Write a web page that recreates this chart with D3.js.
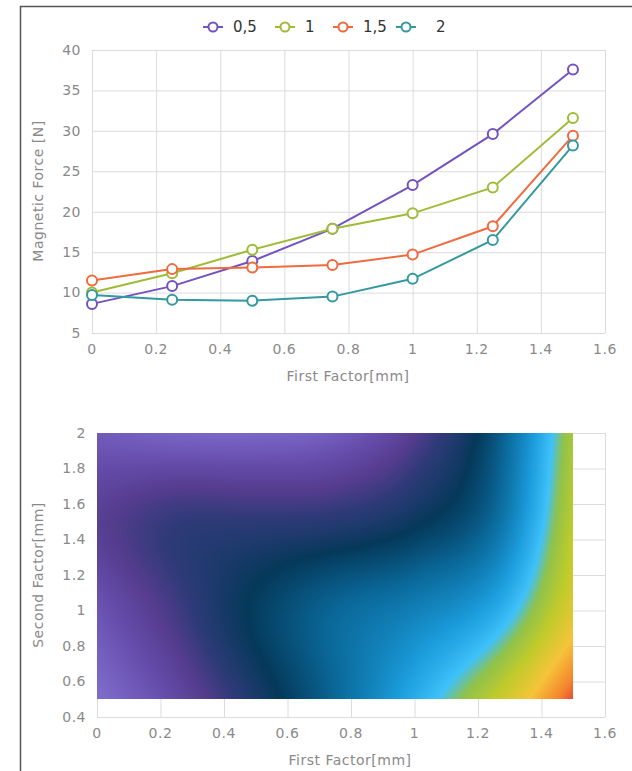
<!DOCTYPE html>
<html>
<head>
<meta charset="utf-8">
<script src="https://cdn.jsdelivr.net/npm/d3@7"></script>
<style>
  body { margin: 0; background: #fff; }
  svg { display: block; font-family: "DejaVu Sans", sans-serif; }
</style>
</head>
<body>
<svg id="chart"></svg>
<script>
// data
const firstFactor = [0, 0.25, 0.5, 0.75, 1, 1.25, 1.5];
const secondFactor = [0.5, 1, 1.5, 2];
const seriesNames = ["0,5", "1", "1,5", "2"];
const force05 = [8.6, 10.8, 13.9, 17.9, 23.3, 29.6, 37.6];
const force10 = [10.0, 12.4, 15.3, 17.9, 19.8, 23.0, 31.6];
const force15 = [11.5, 12.9, 13.1, 13.4, 14.7, 18.2, 29.4];
const force20 = [9.7, 9.1, 9.0, 9.5, 11.7, 16.5, 28.2];
const forceTicks = [5, 10, 15, 20, 25, 30, 35, 40];
const factorTicks = [0, 0.2, 0.4, 0.6, 0.8, 1, 1.2, 1.4, 1.6];
const secondTicks = [0.4, 0.6, 0.8, 1, 1.2, 1.4, 1.6, 1.8, 2];

const seriesColors = ["#7452c0", "#9fbb38", "#ef6a3e", "#33999f"];
const heatStops = [8.5, 10.5, 11.8, 13, 15, 18, 22, 25, 26.8, 29.5, 33, 36, 37.6];
const heatColors = ["#8070d0", "#664cab", "#553c8e", "#2e3a78", "#05395a", "#0a6899",
  "#1b9cdc", "#3fc1fa", "#8fc24c", "#bfcb2a", "#f5c43a", "#f5852c", "#e8483a"];

const allSeries = [force05, force10, force15, force20];
const W = 632, H = 771;
const gridColor = "#dcdcdc", tickColor = "#8a8a8a";
const fmt = d => String(+d.toFixed(1));

const svg = d3.select("#chart").attr("width", W).attr("height", H);
svg.append("rect").attr("width", W).attr("height", H).attr("fill", "#fff");
// outer frame
svg.append("rect")
  .attr("x", 20.5).attr("y", 6.5).attr("width", 640).attr("height", 800)
  .attr("fill", "none").attr("stroke", "#555").attr("stroke-width", 1.5);

// ---------- upper: line chart ----------
const x1 = d3.scaleLinear().domain([0, 1.6]).range([92, 605]);
const y1 = d3.scaleLinear().domain([5, 40]).range([333, 50]);

const lineG = svg.append("g");
lineG.selectAll(".vg").data(factorTicks).join("line")
  .attr("x1", d => x1(d) + 0.5).attr("x2", d => x1(d) + 0.5)
  .attr("y1", y1(40)).attr("y2", y1(5))
  .attr("stroke", gridColor);
lineG.selectAll(".hg").data(forceTicks).join("line")
  .attr("x1", x1(0)).attr("x2", x1(1.6))
  .attr("y1", d => y1(d) + 0.5).attr("y2", d => y1(d) + 0.5)
  .attr("stroke", gridColor);

lineG.selectAll(".yt").data(forceTicks).join("text")
  .attr("x", x1(0) - 11).attr("y", d => y1(d)).attr("dy", "0.35em")
  .attr("text-anchor", "end").attr("fill", tickColor)
  .style("font-size", "14px").style("letter-spacing", "0.5px")
  .text(d => d);
lineG.selectAll(".xt").data(factorTicks).join("text")
  .attr("x", d => x1(d)).attr("y", y1(5) + 16).attr("dy", "0.35em")
  .attr("text-anchor", "middle").attr("fill", tickColor)
  .style("font-size", "14px").style("letter-spacing", "0.5px")
  .text(fmt);

lineG.append("text")
  .attr("x", 348).attr("y", 376).attr("dy", "0.35em")
  .attr("text-anchor", "middle").attr("fill", tickColor)
  .style("font-size", "14px").style("letter-spacing", "0.5px")
  .text("First Factor[mm]");
lineG.append("text")
  .attr("transform", "translate(38,191) rotate(-90)").attr("dy", "0.35em")
  .attr("text-anchor", "middle").attr("fill", tickColor)
  .style("font-size", "14px").style("letter-spacing", "0.5px")
  .text("Magnetic Force [N]");

const line = d3.line().x((d, i) => x1(firstFactor[i])).y(d => y1(d));
allSeries.forEach((vals, k) => {
  lineG.append("path").datum(vals)
    .attr("d", line).attr("fill", "none")
    .attr("stroke", seriesColors[k]).attr("stroke-width", 2);
});
allSeries.forEach((vals, k) => {
  lineG.selectAll(null).data(vals).join("circle")
    .attr("cx", (d, i) => x1(firstFactor[i])).attr("cy", d => y1(d))
    .attr("r", 5).attr("fill", "#fff")
    .attr("stroke", seriesColors[k]).attr("stroke-width", 2);
});

// legend
const legendX = [203, 275, 333, 396];
const legend = svg.append("g");
seriesNames.forEach((name, k) => {
  const g = legend.append("g").attr("transform", `translate(${legendX[k]},27)`);
  g.append("line").attr("x1", 0).attr("x2", 20)
    .attr("stroke", seriesColors[k]).attr("stroke-width", 2);
  g.append("circle").attr("cx", 10).attr("r", 4.5)
    .attr("fill", "#fff").attr("stroke", seriesColors[k]).attr("stroke-width", 2);
  g.append("text").attr("x", k === 3 ? 40 : 30).attr("dy", "0.35em")
    .attr("fill", "#333").style("font-size", "15px")
    .text(name);
});

// ---------- lower: heat map ----------
const x2 = d3.scaleLinear().domain([0, 1.6]).range([97, 605]);
const y2 = d3.scaleLinear().domain([0.4, 2]).range([717, 433]);

const heatG = svg.append("g");
heatG.selectAll(".vg").data(factorTicks).join("line")
  .attr("x1", d => x2(d) + 0.5).attr("x2", d => x2(d) + 0.5)
  .attr("y1", y2(2)).attr("y2", y2(0.4))
  .attr("stroke", gridColor);
heatG.selectAll(".hg").data(secondTicks).join("line")
  .attr("x1", x2(0)).attr("x2", x2(1.6))
  .attr("y1", d => y2(d) + 0.5).attr("y2", d => y2(d) + 0.5)
  .attr("stroke", gridColor);

const color = d3.scaleLinear().domain(heatStops).range(heatColors)
  .interpolate(d3.interpolateRgb).clamp(true);

// rows = secondFactor, cols = firstFactor; smooth cubic (Catmull-Rom) between grid nodes
const colIdx = d3.scaleLinear().domain(firstFactor).range(d3.range(firstFactor.length)).clamp(true);
const rowIdx = d3.scaleLinear().domain(secondFactor).range(d3.range(secondFactor.length)).clamp(true);
function cubic1d(p, t) {
  const n = p.length;
  const i = Math.min(Math.floor(t), n - 2), u = t - i;
  const m = k => k <= 0 ? p[1] - p[0] : k >= n - 1 ? p[n - 1] - p[n - 2] : (p[k + 1] - p[k - 1]) / 2;
  const p0 = p[i], p1 = p[i + 1], m0 = m(i), m1 = m(i + 1);
  const u2 = u * u, u3 = u2 * u;
  return (2 * u3 - 3 * u2 + 1) * p0 + (u3 - 2 * u2 + u) * m0 + (-2 * u3 + 3 * u2) * p1 + (u3 - u2) * m1;
}
function valueAt(fx, fy) {
  const cx = colIdx(fx), cy = rowIdx(fy);
  const col = allSeries.map(row => cubic1d(row, cx));
  return cubic1d(col, cy);
}

const hx0 = Math.round(x2(0)), hx1 = Math.round(x2(1.5));
const hy0 = Math.round(y2(2)), hy1 = Math.round(y2(0.5));
const cw = hx1 - hx0, ch = hy1 - hy0;
const canvas = document.createElement("canvas");
canvas.width = cw; canvas.height = ch;
const ctx = canvas.getContext("2d");
const img = ctx.createImageData(cw, ch);
for (let py = 0; py < ch; py++) {
  const fy = y2.invert(hy0 + py + 0.5);
  for (let px = 0; px < cw; px++) {
    const fx = x2.invert(hx0 + px + 0.5);
    const c = d3.rgb(color(valueAt(fx, fy)));
    const o = (py * cw + px) * 4;
    img.data[o] = c.r; img.data[o + 1] = c.g; img.data[o + 2] = c.b; img.data[o + 3] = 255;
  }
}
ctx.putImageData(img, 0, 0);
heatG.append("image")
  .attr("x", hx0).attr("y", hy0).attr("width", cw).attr("height", ch)
  .attr("preserveAspectRatio", "none")
  .attr("href", canvas.toDataURL());

heatG.selectAll(".yt").data(secondTicks).join("text")
  .attr("x", x2(0) - 11).attr("y", d => y2(d)).attr("dy", "0.35em")
  .attr("text-anchor", "end").attr("fill", tickColor)
  .style("font-size", "14px").style("letter-spacing", "0.5px")
  .text(fmt);
heatG.selectAll(".xt").data(factorTicks).join("text")
  .attr("x", d => x2(d)).attr("y", y2(0.4) + 16).attr("dy", "0.35em")
  .attr("text-anchor", "middle").attr("fill", tickColor)
  .style("font-size", "14px").style("letter-spacing", "0.5px")
  .text(fmt);
heatG.append("text")
  .attr("x", 350).attr("y", 760).attr("dy", "0.35em")
  .attr("text-anchor", "middle").attr("fill", tickColor)
  .style("font-size", "14px").style("letter-spacing", "0.5px")
  .text("First Factor[mm]");
heatG.append("text")
  .attr("transform", "translate(38,575) rotate(-90)").attr("dy", "0.35em")
  .attr("text-anchor", "middle").attr("fill", tickColor)
  .style("font-size", "14px").style("letter-spacing", "0.5px")
  .text("Second Factor[mm]");
</script>
</body>
</html>
